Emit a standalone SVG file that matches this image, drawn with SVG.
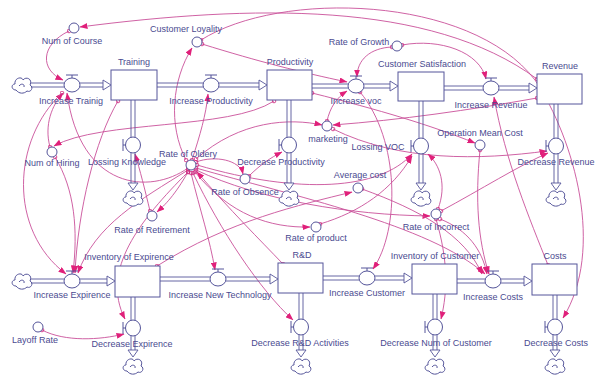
<svg xmlns="http://www.w3.org/2000/svg" xmlns:xlink="http://www.w3.org/1999/xlink" width="598" height="378" viewBox="0 0 598 378">
<style>
.lbl{font-family:"Liberation Sans",Arial,sans-serif;font-size:9px;fill:#4a4a90;text-anchor:middle}
.stock{fill:#fff;stroke:#55559a;stroke-width:1}
.pipe{stroke:#55559a;stroke-width:0.9;fill:none}
.pa{fill:#fff;stroke:#55559a;stroke-width:0.9}
.vl{fill:#fff;stroke:#55559a;stroke-width:1}
.aux{fill:#fff;stroke:#55559a;stroke-width:1}
.con{fill:none;stroke:#c9509a;stroke-width:0.9;marker-end:url(#arr);marker-start:url(#org)}
</style>
<defs>
<marker id="arr" viewBox="0 0 8 6" refX="7.5" refY="3" markerWidth="8" markerHeight="6" markerUnits="userSpaceOnUse" orient="auto"><path d="M0,0 L8,3 L0,6 z" fill="#e0207a"/></marker>
<marker id="org" viewBox="0 0 6 6" refX="3" refY="3" markerWidth="5" markerHeight="5" markerUnits="userSpaceOnUse"><circle cx="3" cy="3" r="2.2" fill="none" stroke="#d02a80" stroke-width="1"/></marker>
<g id="vh" class="vl"><line x1="0" y1="-7" x2="0" y2="-10"/><line x1="-6" y1="-10" x2="6" y2="-10"/><ellipse rx="8" ry="7"/></g>
<g id="vv" class="vl"><line x1="-7" y1="0" x2="-10" y2="0"/><line x1="-10" y1="-6" x2="-10" y2="6"/><ellipse rx="7.5" ry="8"/></g>
<g id="cl" fill="#fff" stroke="#55559a" stroke-width="1"><path d="M-6,5 C-11,5 -11,-1 -7,-1 C-8,-7 0,-9 1,-5 C4,-9 11,-6 8,0 C12,2 9,8 5,6 C2,9 -3,9 -6,5 Z"/><path d="M-3,1 C-1,-2 3,-1 2,2"/></g>
</defs>

<g id="connectors">
<path class="con" d="M537,79 C430,0 250,5 80,27"/>
<path class="con" d="M201,40 C280,-10 470,-5 535,80 C575,140 605,250 563,318"/>
<path class="con" d="M392,47 C370,48 357,60 357,77"/>
<path class="con" d="M402,45 C440,38 480,52 486,79"/>
<path class="con" d="M202,44 C260,62 300,72 347,82"/>
<path class="con" d="M69,31 C40,45 40,70 63,80"/>
<path class="con" d="M186,160 C168,125 172,80 192,48"/>
<path class="con" d="M192,160 C200,135 206,115 208,94"/>
<path class="con" d="M274,101 C230,130 100,120 54,146"/>
<path class="con" d="M118,101 C95,140 78,210 75,273"/>
<path class="con" d="M50,147 C44,125 52,105 63,93"/>
<path class="con" d="M55,157 C75,190 78,230 73,273"/>
<path class="con" d="M188,168 C150,195 80,190 67,93"/>
<path class="con" d="M62,93 C12,140 8,230 66,274"/>
<path class="con" d="M188,172 C140,220 100,270 125,319"/>
<path class="con" d="M188,170 C140,200 95,225 78,273"/>
<path class="con" d="M157,266 C230,220 300,205 352,192"/>
<path class="con" d="M196,162 C215,155 240,160 243,174"/>
<path class="con" d="M195,172 C230,215 270,228 310,227"/>
<path class="con" d="M196,170 C260,200 350,215 430,216"/>
<path class="con" d="M196,168 C290,195 430,225 485,274"/>
<path class="con" d="M188,172 C175,195 165,205 157,212"/>
<path class="con" d="M191,173 C200,210 210,240 215,270"/>
<path class="con" d="M193,173 C220,230 260,290 293,320"/>
<path class="con" d="M283,264 C260,240 230,210 197,172"/>
<path class="con" d="M150,211 C145,190 140,170 135,154"/>
<path class="con" d="M249,176 C260,165 270,158 282,152"/>
<path class="con" d="M312,93 C380,110 430,125 475,143"/>
<path class="con" d="M480,150 C475,200 478,240 489,274"/>
<path class="con" d="M548,265 C530,220 505,160 494,97"/>
<path class="con" d="M360,92 C400,140 400,230 373,269"/>
<path class="con" d="M537,98 C470,110 400,120 333,125"/>
<path class="con" d="M333,129 C400,162 480,160 547,151"/>
<path class="con" d="M438,209 C447,185 440,165 428,154"/>
<path class="con" d="M197,165 C300,195 380,190 412,154"/>
<path class="con" d="M441,211 C480,190 520,165 548,153"/>
<path class="con" d="M440,219 C468,230 482,250 487,274"/>
<path class="con" d="M436,219 C448,260 448,290 441,319"/>
<path class="con" d="M42,330 C65,342 100,340 124,334"/>
<path class="con" d="M362,189 C420,210 465,235 482,274"/>
<path class="con" d="M320,224 C360,212 392,190 412,156"/>
<path class="con" d="M327,121 C330,108 336,98 347,91"/>
<path class="con" d="M196,159 C240,120 290,118 322,125"/>
</g>

<g id="training"><rect class="stock" x="111" y="70" width="46" height="30"/><text class="lbl" x="134" y="65">Training</text></g>
<g id="productivity"><rect class="stock" x="267" y="70" width="45" height="30"/><text class="lbl" x="290" y="65">Productivity</text></g>
<g id="customer-satisfaction"><rect class="stock" x="398" y="72" width="46" height="29"/><text class="lbl" x="422" y="67">Customer Satisfaction</text></g>
<g id="revenue"><rect class="stock" x="537" y="74" width="45" height="30"/><text class="lbl" x="560" y="69">Revenue</text></g>
<g id="inventory-of-expirence"><rect class="stock" x="115" y="266" width="45" height="31"/><text class="lbl" x="129" y="260">Inventory of Expirence</text></g>
<g id="rd"><rect class="stock" x="278" y="263" width="45" height="30"/><text class="lbl" x="302" y="258">R&amp;D</text></g>
<g id="inventory-of-customer"><rect class="stock" x="412" y="264" width="45" height="30"/><text class="lbl" x="435" y="259">Inventory of Customer</text></g>
<g id="costs"><rect class="stock" x="532" y="264" width="45" height="31"/><text class="lbl" x="555" y="259">Costs</text></g>

<g id="increase-trainig">
<use xlink:href="#cl" x="22" y="85"/>
<path class="pipe" d="M31,83 H103 M31,87 H103"/><polygon class="pa" points="103,80 111,85 103,90"/>
<use xlink:href="#vh" x="72" y="85"/><text class="lbl" x="71" y="104">Increase Trainig</text></g>
<g id="increase-productivity">
<path class="pipe" d="M157,83 H259 M157,87 H259"/><polygon class="pa" points="259,80 267,85 259,90"/>
<use xlink:href="#vh" x="211" y="85"/><text class="lbl" x="211" y="104">Increase Productivity</text></g>
<g id="increase-voc">
<path class="pipe" d="M312,84 H390 M312,88 H390"/><polygon class="pa" points="390,81 398,86 390,91"/>
<use xlink:href="#vh" x="356" y="86"/><text class="lbl" x="356" y="104">Increase voc</text></g>
<g id="increase-revenue">
<path class="pipe" d="M444,86 H529 M444,90 H529"/><polygon class="pa" points="529,83 537,88 529,93"/>
<use xlink:href="#vh" x="491" y="88"/><text class="lbl" x="491" y="108">Increase Revenue</text></g>
<g id="increase-expirence">
<use xlink:href="#cl" x="22" y="281"/>
<path class="pipe" d="M31,279 H107 M31,283 H107"/><polygon class="pa" points="107,276 115,281 107,286"/>
<use xlink:href="#vh" x="72" y="281"/><text class="lbl" x="72" y="298">Increase Expirence</text></g>
<g id="increase-new-technology">
<path class="pipe" d="M160,277 H270 M160,281 H270"/><polygon class="pa" points="270,274 278,279 270,284"/>
<use xlink:href="#vh" x="218" y="279"/><text class="lbl" x="220" y="298">Increase New Technology</text></g>
<g id="increase-customer">
<path class="pipe" d="M323,276 H404 M323,280 H404"/><polygon class="pa" points="404,273 412,278 404,283"/>
<use xlink:href="#vh" x="367" y="278"/><text class="lbl" x="367" y="296">Increase Customer</text></g>
<g id="increase-costs">
<path class="pipe" d="M457,279 H524 M457,283 H524"/><polygon class="pa" points="524,276 532,281 524,286"/>
<use xlink:href="#vh" x="493" y="281"/><text class="lbl" x="493" y="300">Increase Costs</text></g>

<g id="lossing-knowledge">
<path class="pipe" d="M131,100 V183 M135,100 V183"/><polygon class="pa" points="128,183 133,190 138,183"/>
<use xlink:href="#cl" x="133" y="198"/>
<use xlink:href="#vv" x="133" y="145"/><text class="lbl" x="127" y="165">Lossing Knowledge</text></g>
<g id="decrease-productivity">
<path class="pipe" d="M287,100 V183 M291,100 V183"/><polygon class="pa" points="284,183 289,190 294,183"/>
<use xlink:href="#cl" x="289" y="198"/>
<use xlink:href="#vv" x="289" y="145"/><text class="lbl" x="281" y="165">Decrease Productivity</text></g>
<g id="lossing-voc">
<path class="pipe" d="M419,101 V183 M423,101 V183"/><polygon class="pa" points="416,183 421,190 426,183"/>
<use xlink:href="#cl" x="421" y="198"/>
<use xlink:href="#vv" x="421" y="146"/><text class="lbl" x="378" y="150">Lossing VOC</text></g>
<g id="decrease-revenue">
<path class="pipe" d="M554,104 V183 M558,104 V183"/><polygon class="pa" points="551,183 556,190 561,183"/>
<use xlink:href="#cl" x="556" y="198"/>
<use xlink:href="#vv" x="556" y="146"/><text class="lbl" x="556" y="165">Decrease Revenue</text></g>
<g id="decrease-expirence">
<path class="pipe" d="M131,297 V350 M135,297 V350"/><polygon class="pa" points="128,350 133,357 138,350"/>
<use xlink:href="#cl" x="133" y="366"/>
<use xlink:href="#vv" x="133" y="328"/><text class="lbl" x="132" y="347">Decrease Expirence</text></g>
<g id="decrease-rd-activities">
<path class="pipe" d="M299,293 V350 M303,293 V350"/><polygon class="pa" points="296,350 301,357 306,350"/>
<use xlink:href="#cl" x="301" y="366"/>
<use xlink:href="#vv" x="301" y="327"/><text class="lbl" x="300" y="346">Decrease R&amp;D Activities</text></g>
<g id="decrease-num-of-customer">
<path class="pipe" d="M433,294 V350 M437,294 V350"/><polygon class="pa" points="430,350 435,357 440,350"/>
<use xlink:href="#cl" x="435" y="366"/>
<use xlink:href="#vv" x="435" y="327"/><text class="lbl" x="436" y="346">Decrease Num of  Customer</text></g>
<g id="decrease-costs">
<path class="pipe" d="M553,295 V350 M557,295 V350"/><polygon class="pa" points="550,350 555,357 560,350"/>
<use xlink:href="#cl" x="555" y="366"/>
<use xlink:href="#vv" x="555" y="327"/><text class="lbl" x="556" y="346">Decrease Costs</text></g>

<g id="num-of-course"><circle class="aux" cx="74" cy="28" r="5"/><text class="lbl" x="72" y="44">Num of Course</text></g>
<g id="customer-loyality"><circle class="aux" cx="197" cy="42" r="5"/><text class="lbl" x="186" y="32">Customer Loyality</text></g>
<g id="rate-of-growth"><circle class="aux" cx="397" cy="46" r="5"/><text class="lbl" x="359" y="45">Rate of Growth</text></g>
<g id="num-of-hiring"><circle class="aux" cx="52" cy="152" r="5"/><text class="lbl" x="52" y="166">Num of Hiring</text></g>
<g id="rate-of-oldery"><circle class="aux" cx="191" cy="165" r="5"/><text class="lbl" x="188" y="157">Rate of Oldery</text></g>
<g id="rate-of-retirement"><circle class="aux" cx="152" cy="216" r="5"/><text class="lbl" x="152" y="233">Rate of Retirement</text></g>
<g id="rate-of-obsence"><circle class="aux" cx="245" cy="179" r="5"/><text class="lbl" x="245" y="195">Rate of Obsence</text></g>
<g id="marketing"><circle class="aux" cx="327" cy="126" r="5"/><text class="lbl" x="328" y="142">marketing</text></g>
<g id="average-cost"><circle class="aux" cx="358" cy="188" r="5"/><text class="lbl" x="360" y="178">Average cost</text></g>
<g id="rate-of-product"><circle class="aux" cx="316" cy="227" r="5"/><text class="lbl" x="316" y="241">Rate of product</text></g>
<g id="operation-mean-cost"><circle class="aux" cx="480" cy="145" r="5"/><text class="lbl" x="480" y="136">Operation Mean Cost</text></g>
<g id="rate-of-incorrect"><circle class="aux" cx="436" cy="214" r="5"/><text class="lbl" x="436" y="230">Rate of  Incorrect</text></g>
<g id="layoff-rate"><circle class="aux" cx="38" cy="327" r="5"/><text class="lbl" x="35" y="343">Layoff Rate</text></g>
</svg>
